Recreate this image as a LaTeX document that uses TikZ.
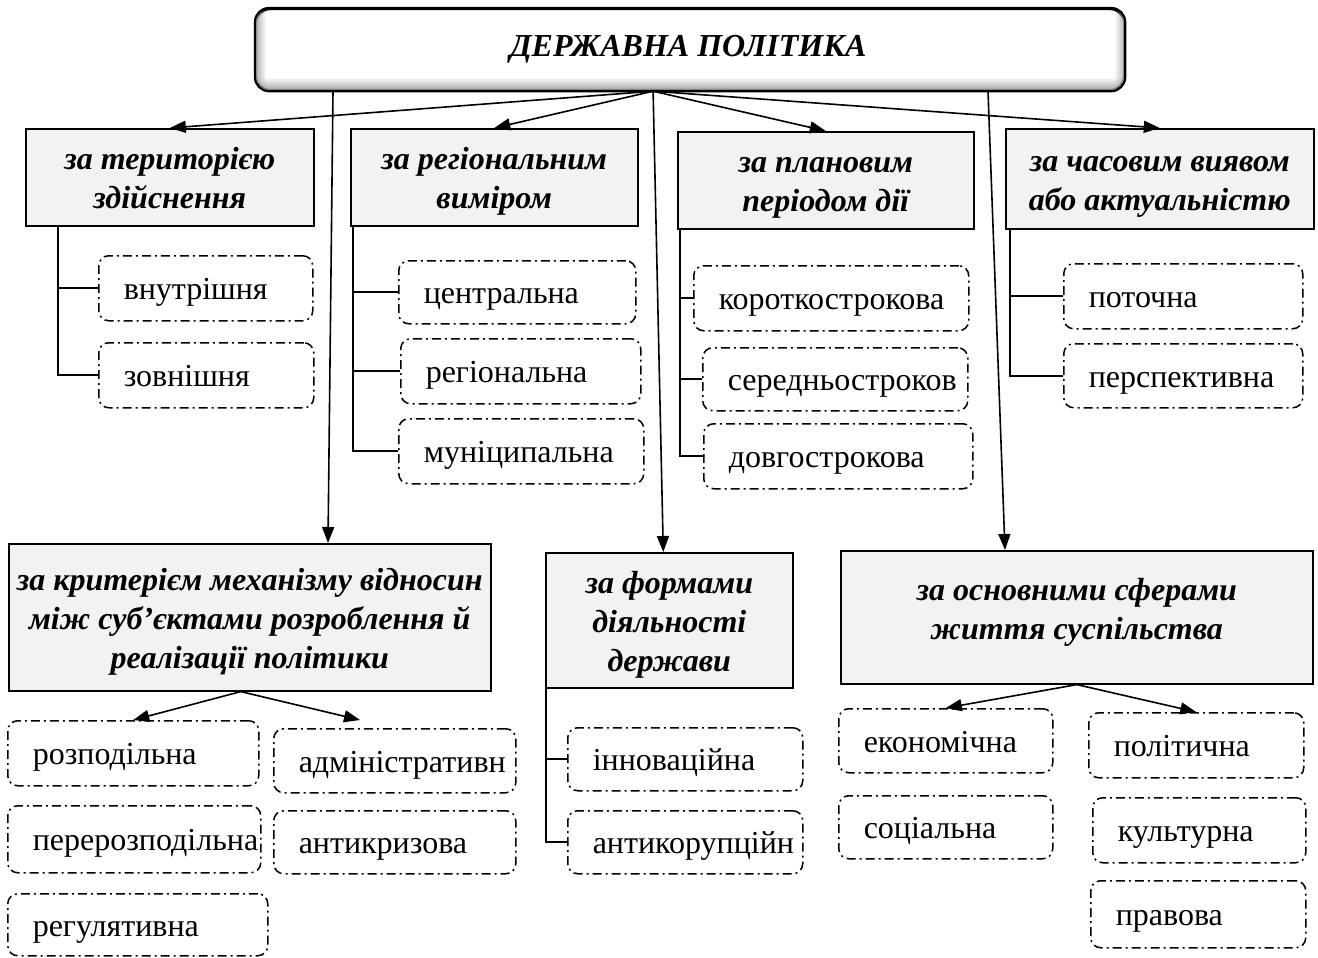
\documentclass[tikz,border=0pt]{standalone}
\usepackage{fontspec}
\defaultfontfeatures{Ligatures=TeX}
\setmainfont{Liberation Serif}
\usetikzlibrary{arrows.meta,fadings,calc}
\definecolor{catfill}{HTML}{F2F2F2}
\newcommand\catfont{\fontsize{32}{39}\selectfont\bfseries\itshape}
\newcommand\leaffont{\fontsize{32}{37}\selectfont}
\newcommand\fl{\rule{0pt}{35.5pt}}
\begin{document}
\begin{tikzpicture}[x=1pt,y=-1pt,
  cat/.style={draw=black, line width=1.6pt, fill=catfill, align=center, font=\catfont, inner sep=0pt, anchor=north west,
    execute at end node={\rule[-11.7pt]{0pt}{11.7pt}}},
  leaf/.style={draw=black, line width=1.5pt, rounded corners=10pt, dash pattern=on 9pt off 4pt on 2pt off 4pt, font=\leaffont, align=left, inner xsep=25pt, inner ysep=0pt, anchor=north west,
    execute at begin node={\rule[-11pt]{0pt}{45pt}}},
  arr/.style={line width=1.6pt, -{Triangle[length=16pt,width=12pt]}},
  tree/.style={line width=1.6pt}
]
\useasboundingbox (0,0) rectangle (1318,958);

% top box
\node[draw=black, line width=2.2pt, rounded corners=14pt, fill=white, minimum width=868pt, minimum height=81pt, inner sep=0pt, anchor=north west] (top) at (255,8) {};
\begin{scope}
  \path[clip, rounded corners=14pt] (top.north west) rectangle (top.south east);
  \fill[gray!75, path fading=north] ($(top.south west)+(0,-14)$) rectangle (top.south east);
  \fill[gray!65, path fading=east] (top.north west) rectangle ($(top.south west)+(11,0)$);
  \fill[gray!65, path fading=west] ($(top.north east)+(-11,0)$) rectangle (top.south east);
\end{scope}
\draw[line width=2.2pt, rounded corners=14pt] (top.north west) rectangle (top.south east);
\node[font=\catfont] (title) at ($(top.center)+(-2,0)$) {ДЕРЖАВНА ПОЛІТИКА};

% category boxes
\node[cat, minimum width=288pt, minimum height=97pt] (b1) at (25,128) {\fl за територією\\здійснення};
\node[cat, minimum width=287pt, minimum height=97pt] (b2) at (350,128) {\fl за регіональним\\виміром};
\node[cat, minimum width=296pt, minimum height=97pt] (b3) at (677,131) {\fl за плановим\\періодом дії};
\node[cat, minimum width=308pt, minimum height=100pt] (b4) at (1005,128) {\fl за часовим виявом\\або актуальністю};
\node[cat, minimum width=482pt, minimum height=147pt] (b5) at (8,543) {\fl за критерієм механізму відносин\\між суб’єктами розроблення й\\реалізації політики};
\node[cat, minimum width=247pt, minimum height=135pt] (b6) at (545,552) {\fl за формами\\діяльності\\держави};
\node[cat, minimum width=472pt, minimum height=133pt, execute at end node={\rule[-29.7pt]{0pt}{29.7pt}}] (b7) at (840,550) {\fl за основними сферами\\життя суспільства};

% leaves
\node[leaf, text width=164pt, minimum height=65pt] (l11) at (98,255) {внутрішня};
\node[leaf, text width=165pt, minimum height=65pt] (l12) at (98,342) {зовнішня};
\node[leaf, text width=187pt, minimum height=63pt] (l21) at (398,260) {центральна};
\node[leaf, text width=190pt, minimum height=65pt] (l22) at (400,338) {регіональна};
\node[leaf, text width=195pt, minimum height=65pt] (l23) at (398,418) {муніципальна};
\node[leaf, text width=225pt, minimum height=65pt] (l31) at (693,265) {короткострокова};
\node[leaf, text width=215pt, minimum height=63pt] (l32) at (702,347) {середньостроков};
\node[leaf, text width=219pt, minimum height=65pt] (l33) at (703,423) {довгострокова};
\node[leaf, text width=189pt, minimum height=65pt] (l41) at (1063,263) {поточна};
\node[leaf, text width=189pt, minimum height=64pt] (l42) at (1063,343) {перспективна};
\node[leaf, text width=201pt, minimum height=65pt] (l51) at (7,720) {розподільна};
\node[leaf, text width=203pt, minimum height=67pt] (l52) at (7,805) {перерозподільна};
\node[leaf, text width=210pt, minimum height=62pt] (l53) at (7,893) {регулятивна};
\node[leaf, text width=192pt, minimum height=64pt] (l54) at (273,728) {адміністративн};
\node[leaf, text width=192pt, minimum height=63pt] (l55) at (273,810) {антикризова};
\node[leaf, text width=185pt, minimum height=63pt] (l61) at (567,727) {інноваційна};
\node[leaf, text width=185pt, minimum height=63pt] (l62) at (567,810) {антикорупційн};
\node[leaf, text width=164pt, minimum height=64pt] (l71) at (838,708) {економічна};
\node[leaf, text width=164pt, minimum height=63pt] (l72) at (838,795) {соціальна};
\node[leaf, text width=165pt, minimum height=65pt] (l73) at (1088,712) {політична};
\node[leaf, text width=163pt, minimum height=65pt] (l74) at (1092,797) {культурна};
\node[leaf, text width=165pt, minimum height=67pt] (l75) at (1090,880) {правова};

% arrows from top
\coordinate (hub) at ($(top.south)+(-37,0)$);
\draw[arr] (hub) -- (b1.north);
\draw[arr] (hub) -- (b2.north);
\draw[arr] (hub) -- (b3.north);
\draw[arr] (hub) -- (b4.north);
\coordinate (e6) at ($(b6.north)+(-6,0)$);
\draw[arr] (hub) -- (e6);
\coordinate (s5) at ($(top.south west)+(78,0)$);
\coordinate (e5) at ($(b5.north west)+(320,0)$);
\draw[arr] (s5) -- (e5);
\coordinate (s7) at ($(top.south west)+(733,0)$);
\coordinate (e7) at ($(b7.north west)+(165,0)$);
\draw[arr] (s7) -- (e7);

% trees
\coordinate (t1) at ($(b1.south west)+(33,0)$);
\draw[tree] (t1) |- (l12.west);
\draw[tree] (t1 |- l11.west) -- (l11.west);
\coordinate (t2) at ($(b2.south west)+(3,0)$);
\draw[tree] (t2) |- (l23.west);
\draw[tree] (t2 |- l21.west) -- (l21.west);
\draw[tree] (t2 |- l22.west) -- (l22.west);
\coordinate (t3) at ($(b3.south west)+(3,0)$);
\draw[tree] (t3) |- (l33.west);
\draw[tree] (t3 |- l31.west) -- (l31.west);
\draw[tree] (t3 |- l32.west) -- (l32.west);
\coordinate (t4) at ($(b4.south west)+(5,0)$);
\draw[tree] (t4) |- (l42.west);
\draw[tree] (t4 |- l41.west) -- (l41.west);
\coordinate (t6) at ($(b6.south west)+(1,0)$);
\draw[tree] (t6) |- (l62.west);
\draw[tree] (t6 |- l61.west) -- (l61.west);

% bottom arrows
\coordinate (h5) at ($(b5.south)+(-9,0)$);
\draw[arr] (h5) -- (l51.north);
\coordinate (e54) at ($(l54.north west)+(87,-8)$);
\draw[arr] (h5) -- (e54);
\draw[arr] (b7.south) -- (l71.north);
\draw[arr] (b7.south) -- (l73.north);
\end{tikzpicture}
\end{document}
